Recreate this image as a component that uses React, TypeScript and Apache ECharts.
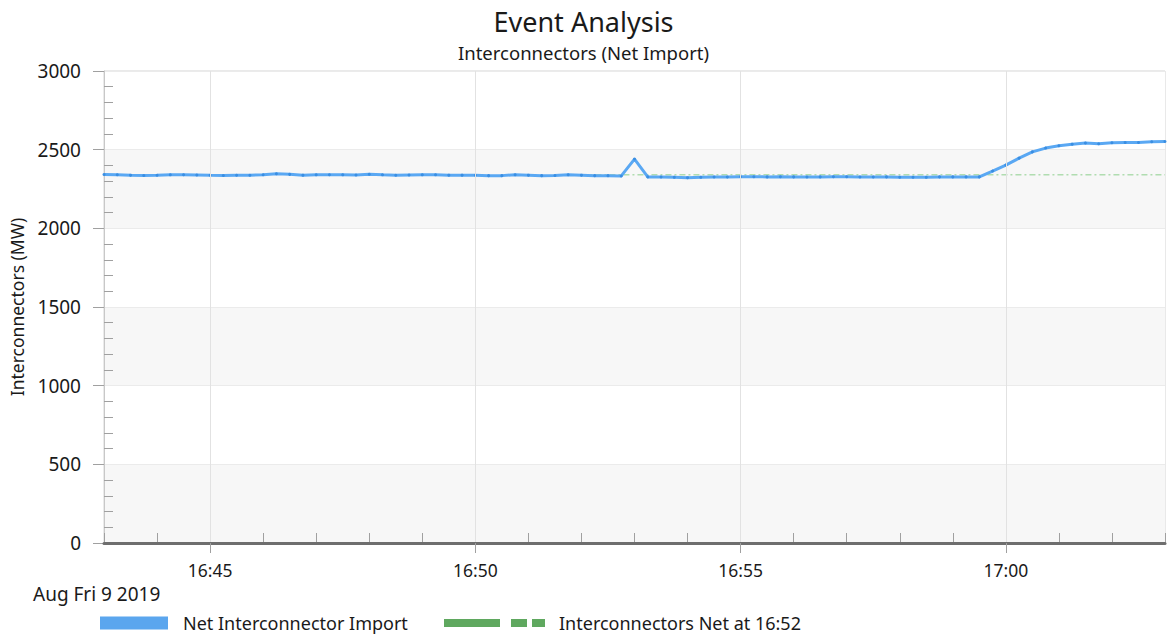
import React, { useEffect, useRef } from "react";
import * as echarts from "echarts";

const FONT = "'Noto Sans', 'Open Sans', sans-serif";

// Sampling: every 15 seconds from 16:43:00 to 17:03:00 on Aug 9 2019
const sampleStart = [16, 43, 0];
const sampleStepSeconds = 15;

// Net Interconnector Import (MW)
const netImport = [
  2342, 2341, 2338, 2336, 2337, 2340, 2341, 2339,
  2337, 2336, 2337, 2337, 2341, 2347, 2343, 2338,
  2340, 2341, 2340, 2339, 2344, 2340, 2337, 2339,
  2340, 2340, 2338, 2338, 2337, 2335, 2335, 2341,
  2338, 2335, 2336, 2341, 2338, 2335, 2335, 2333,
  2440, 2327, 2326, 2324, 2322, 2324, 2326, 2326,
  2328, 2328, 2327, 2328, 2327, 2326, 2327, 2328,
  2328, 2326, 2326, 2327, 2325, 2325, 2324, 2327,
  2327, 2327, 2327, 2364, 2402, 2446, 2486, 2510,
  2525, 2535, 2542, 2538, 2544, 2545, 2546, 2550,
  2552,
];

// Interconnectors Net at 16:52 (reference level)
const refTimes = ["16:52:00", "17:03:00"];
const refValues = [2340, 2340];

const xRange = ["16:43:00", "17:03:00"];
const xTickLabels = ["16:45", "16:50", "16:55", "17:00"];
const dateLabel = "Aug Fri 9 2019";
const titleText = "Event Analysis";
const subtitleText = "Interconnectors (Net Import)";
const yAxisName = "Interconnectors (MW)";
const seriesNames = ["Net Interconnector Import", "Interconnectors Net at 16:52"];

const ts = (hms: string) => {
  const [h, m, s] = hms.split(":").map(Number);
  return new Date(2019, 7, 9, h, m, s || 0).getTime();
};
const pad = (n: number) => (n < 10 ? "0" + n : "" + n);
const fmtTime = (v: number) => {
  const d = new Date(v);
  return pad(d.getHours()) + ":" + pad(d.getMinutes());
};

export default function App() {
  const ref = useRef<HTMLDivElement>(null);
  useEffect(() => {
    if (!ref.current) return;
    const chart = echarts.init(ref.current, undefined, { renderer: "svg" });
    const start = new Date(2019, 7, 9, sampleStart[0], sampleStart[1], sampleStart[2]).getTime();
    const netData = netImport.map((v, i) => [start + i * sampleStepSeconds * 1000, v]);
    const refData = refTimes.map((tt, i) => [ts(tt), refValues[i]]);
    const xMin = ts(xRange[0]);
    const xMax = ts(xRange[1]);
    const majorX = xTickLabels.map((s) => ts(s));
    const minorY = [] as number[];
    for (let v = 0; v <= 3000; v += 100) if (v % 500 !== 0) minorY.push(v);

    chart.setOption({
      animation: false,
      backgroundColor: "#ffffff",
      textStyle: { fontFamily: FONT },
      title: {
        text: titleText,
        subtext: subtitleText,
        left: "center",
        top: 3,
        itemGap: 8,
        textStyle: { fontFamily: FONT, fontSize: 27, fontWeight: "normal", color: "#1a1a1a" },
        subtextStyle: { fontFamily: FONT, fontSize: 18.5, color: "#1a1a1a" },
      },
      grid: {
        left: 100,
        right: 2,
        top: 71,
        bottom: 94,
        show: true,
        borderColor: "#d4d4d4",
        borderWidth: 1,
        backgroundColor: "#ffffff",
      },
      legend: [
        {
          left: 100,
          top: 614,
          padding: 0,
          itemWidth: 68,
          itemHeight: 13,
          data: [{ name: seriesNames[0], icon: "rect", itemStyle: { color: "#5ba6ee" } }],
          textStyle: { fontFamily: FONT, fontSize: 18, color: "#1a1a1a", padding: [0, 0, 0, 10] },
        },
        {
          left: 444,
          top: 614,
          padding: 0,
          itemWidth: 101,
          itemHeight: 8,
          data: [
            {
              name: seriesNames[1],
              icon: "path://M0,0H56V8H0Z M67,0H83V8H67Z M88,0H101V8H88Z",
              itemStyle: { color: "#5fa85f" },
            },
          ],
          textStyle: { fontFamily: FONT, fontSize: 18, color: "#1a1a1a", padding: [0, 0, 0, 9] },
        },
      ],
      xAxis: [
        {
          type: "value",
          min: xMin,
          max: xMax,
          axisLine: { show: true, lineStyle: { color: "#6e6e6e", width: 3 } },
          axisTick: { show: true, length: 10, customValues: majorX, lineStyle: { color: "#a0a0a0" } },
          axisLabel: {
            customValues: majorX,
            formatter: (v: number) => fmtTime(v),
            fontSize: 17.5,
            color: "#1a1a1a",
            margin: 18,
            fontFamily: FONT,
          },
          splitLine: { show: true, lineStyle: { color: "#e2e2e2" } },
          z: 5,
        },
        {
          type: "value",
          min: xMin,
          max: xMax,
          interval: 60000,
          position: "bottom",
          axisLine: { show: false },
          axisTick: { show: true, inside: true, length: 10, lineStyle: { color: "#a0a0a0" } },
          axisLabel: { show: false },
          splitLine: { show: false },
        },
      ],
      yAxis: [
        {
          type: "value",
          min: 0,
          max: 3000,
          interval: 500,
          name: yAxisName,
          nameLocation: "middle",
          nameRotate: 90,
          nameGap: 78,
          nameTextStyle: { fontFamily: FONT, fontSize: 17.5, color: "#1a1a1a" },
          axisLine: { show: true, lineStyle: { color: "#c8c8c8" } },
          axisTick: { show: true, length: 11, lineStyle: { color: "#a0a0a0" } },
          axisLabel: {
            fontSize: 19,
            color: "#1a1a1a",
            margin: 23,
            fontFamily: FONT,
            formatter: (v: number) => String(v),
          },
          splitLine: { show: true, lineStyle: { color: "#ebebeb" } },
          splitArea: { show: true, areaStyle: { color: ["#f7f7f7", "#ffffff"] } },
        },
        {
          type: "value",
          min: 0,
          max: 3000,
          position: "left",
          axisLine: { show: false },
          axisTick: { show: true, inside: true, length: 9, customValues: minorY, lineStyle: { color: "#a0a0a0" } },
          axisLabel: { show: false },
          splitLine: { show: false },
        },
      ],
      series: [
        {
          name: seriesNames[1],
          type: "line",
          xAxisIndex: 0,
          yAxisIndex: 0,
          data: refData,
          showSymbol: false,
          lineStyle: { color: "#8ccf8c", width: 1, type: [6, 3, 2, 3] },
          itemStyle: { color: "#5fa85f" },
          z: 2,
        },
        {
          name: seriesNames[0],
          type: "line",
          xAxisIndex: 0,
          yAxisIndex: 0,
          data: netData,
          symbol: "circle",
          symbolSize: 3,
          showSymbol: true,
          lineStyle: { color: "#5aa8f3", width: 3 },
          itemStyle: { color: "#3a8ee2" },
          z: 3,
        },
      ],
      graphic: [
        {
          type: "text",
          left: 33,
          top: 584,
          style: { text: dateLabel, fontFamily: FONT, fontSize: 19, fill: "#1a1a1a" },
        },
      ],
    });
    return () => chart.dispose();
  }, []);
  return (
    <div
      ref={ref}
      style={{ position: "fixed", left: 0, top: 0, width: 1167, height: 637, background: "#fff" }}
    />
  );
}
